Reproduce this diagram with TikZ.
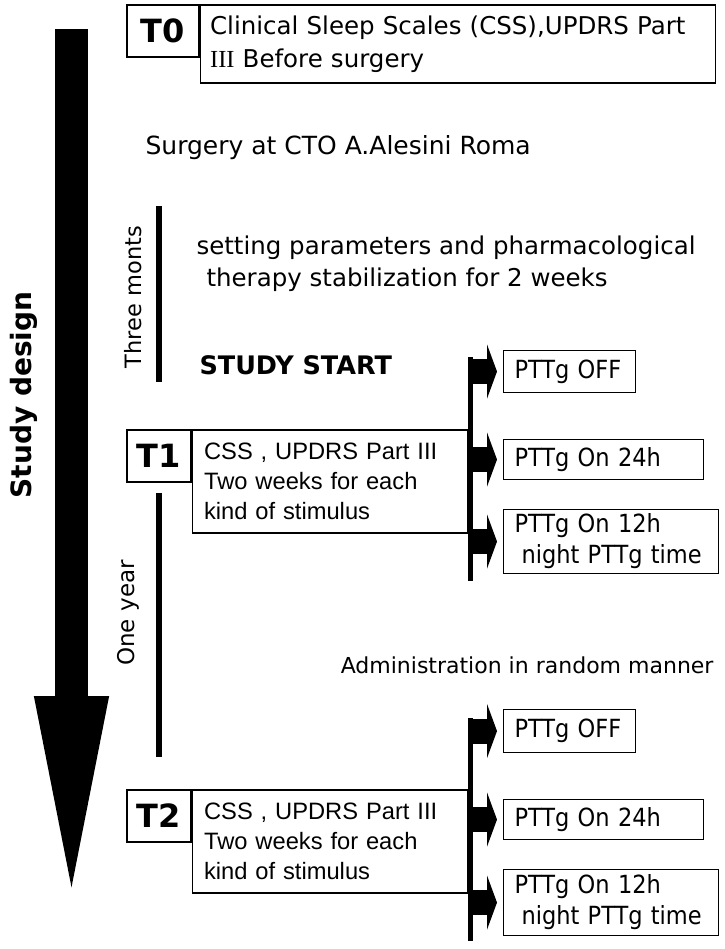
\documentclass[tikz,border=0pt]{standalone}
\usepackage{fontspec}
\setmainfont{DejaVu Sans}
\newfontfamily\romanIII{Liberation Serif}
\newfontfamily\armtext{Liberation Sans}
\newfontfamily\narrowtext{DejaVu Sans Condensed}
\usetikzlibrary{arrows.meta}

\tikzset{
  stagebox/.style={draw=black, line width=1.1pt, inner sep=0pt},
  tagbox/.style={stagebox, minimum width=64pt, minimum height=52pt, font=\fontsize{32}{36}\selectfont\bfseries},
  textbox/.style={stagebox, anchor=north west, align=left, inner xsep=12pt, font=\armtext\fontsize{23.7}{30}\selectfont},
  armbox/.style={stagebox, anchor=north west, align=left, inner xsep=11pt, font=\narrowtext\fontsize{25}{31}\selectfont},
  period/.style={black, line width=5.5pt},
  branch/.style={black, line width=25pt, -{Triangle[length=10pt,width=54pt]}},
  note/.style={font=\fontsize{24.5}{32}\selectfont}
}

\begin{document}
\begin{tikzpicture}[x=1pt, y=-1pt]
\useasboundingbox (0,0) rectangle (724,949);

\coordinate (timetop) at (71.5,29);
\coordinate (timeend) at (71.5,917);
\draw [black, line width=33pt, -{Triangle[length=221pt,width=64pt]}] (timetop) -- (timeend);
\node [rotate=90, font=\fontsize{28}{32}\selectfont\bfseries] (design) at (24,395) {Study design};

\node [tagbox, minimum width=72pt] (t0) at (163,31) {T0};
\node [textbox, font=\fontsize{24.5}{33}\selectfont, inner xsep=10pt, text width=495pt, minimum height=78pt] (t0text) at (t0.north east)
  {Clinical Sleep Scales (CSS),UPDRS Part\\{\romanIII III} Before surgery};

\node [note, font=\fontsize{25}{32}\selectfont, anchor=west] (surgery) at (142,148) {Surgery at CTO A.Alesini Roma};

\coordinate (monthtop) at (159,206);
\coordinate (monthend) at (159,382);
\draw [period] (monthtop) -- (monthend);
\node [rotate=90, font=\fontsize{22.5}{26}\selectfont] (months) at (133,297) {Three monts};
\node [note, anchor=west, align=left] (setting) at (193,264)
  {setting parameters and pharmacological\\\hspace*{10pt}therapy stabilization for 2 weeks};
\node [anchor=west, font=\fontsize{25.5}{30}\selectfont\bfseries] (start) at (196,365) {STUDY START};

% T1
\node [tagbox] (t1) at (159,456) {T1};
\node [textbox, text width=251pt, minimum height=103pt] (t1text) at (t1.north east)
  {CSS , UPDRS Part III\\Two weeks for each\\kind of stimulus};
\coordinate (bar1top) at (470.5,357);
\coordinate (bar1end) at (470.5,581);
\draw [period] (bar1top) -- (bar1end);
\node [armbox, text width=110pt, minimum height=42pt] (off1) at (503,350) {PTTg OFF};
\node [armbox, text width=178pt, minimum height=40pt] (day1) at (503,439) {PTTg On 24h};
\node [armbox, text width=193pt, minimum height=64pt] (night1) at (503,509) {PTTg On 12h\\\hspace*{7pt}night PTTg time};
\draw [branch] (bar1top |- off1.west) -- ([xshift=-6pt]off1.west);
\draw [branch] (bar1top |- day1.west) -- ([xshift=-6pt]day1.west);
\draw [branch] (bar1top |- night1.west) -- ([xshift=-6pt]night1.west);

\coordinate (yeartop) at (159,493);
\coordinate (yearend) at (159,757);
\draw [period] (yeartop) -- (yearend);
\node [rotate=90, font=\fontsize{23}{26}\selectfont] (year) at (128,613) {One year};
\node [anchor=east, font=\fontsize{22}{26}\selectfont] (random) at (717,665) {Administration in random manner};

% T2
\node [tagbox] (t2) at (159,816) {T2};
\node [textbox, text width=251pt, minimum height=103pt] (t2text) at (t2.north east)
  {CSS , UPDRS Part III\\Two weeks for each\\kind of stimulus};
\coordinate (bar2top) at (470.5,718);
\coordinate (bar2end) at (470.5,941);
\draw [period] (bar2top) -- (bar2end);
\node [armbox, text width=110pt, minimum height=43pt] (off2) at (503,709) {PTTg OFF};
\node [armbox, text width=178pt, minimum height=40pt] (day2) at (503,799) {PTTg On 24h};
\node [armbox, text width=193pt, minimum height=66pt] (night2) at (503,869) {PTTg On 12h\\\hspace*{7pt}night PTTg time};
\draw [branch] (bar2top |- off2.west) -- ([xshift=-6pt]off2.west);
\draw [branch] (bar2top |- day2.west) -- ([xshift=-6pt]day2.west);
\draw [branch] (bar2top |- night2.west) -- ([xshift=-6pt]night2.west);

\end{tikzpicture}
\end{document}
